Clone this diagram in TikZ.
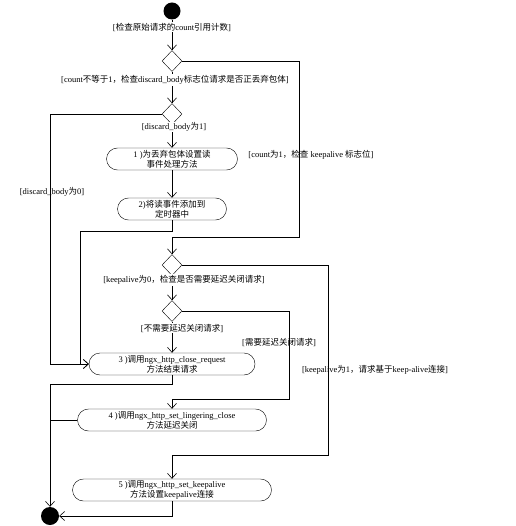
\documentclass[tikz,border=0pt]{standalone}
\usepackage{fontspec}
\setmainfont{Liberation Serif}
\newfontfamily\zhfont{Noto Sans CJK SC}
\newcommand{\zh}[1]{{\zhfont #1}}
\usetikzlibrary{arrows.meta,shapes.geometric}

\begin{document}
\begin{tikzpicture}[x=1pt, y=-1pt,
    every node/.style={font=\fontsize{8.5}{10}\selectfont},
    act/.style={draw, rounded corners=11pt, minimum height=22pt, inner sep=1pt, align=center},
    choice/.style={draw, diamond, minimum width=20pt, minimum height=21pt, inner sep=0pt},
    guard/.style={inner sep=1pt},
    flow/.style={-{Straight Barb[length=5pt,width=9pt]}, line width=0.6pt},
    wire/.style={line width=0.6pt}]
    \useasboundingbox (0,0) rectangle (515,526);

    % start and end
    \node[circle, fill=black, minimum size=17pt, inner sep=0pt] (start) at (172,11) {};
    \node[circle, fill=black, minimum size=18pt, inner sep=0pt] (finish) at (50,516) {};

    % decisions
    \node[choice] (d1) at (172,61) {};
    \node[choice] (d2) at (172,114) {};
    \node[choice] (d3) at (172,265) {};
    \node[choice] (d4) at (172,311) {};

    % actions
    \node[act, minimum width=131pt] (act1) at (172,159) {1 )\zh{为丢弃包体设置读}\\\zh{事件处理方法}};
    \node[act, minimum width=109pt] (act2) at (172,209) {2)\zh{将读事件添加到}\\\zh{定时器中}};
    \node[act, minimum width=166pt] (act3) at (172,364) {3 )\zh{调用}ngx\_http\_close\_request\\\zh{方法结束请求}};
    \node[act, minimum width=189pt] (act4) at (172,420) {4 )\zh{调用}ngx\_http\_set\_lingering\_close\\\zh{方法延迟关闭}};
    \node[act, minimum width=199pt] (act5) at (172,490) {5 )\zh{调用}ngx\_http\_set\_keepalive\\\zh{方法设置}keepalive\zh{连接}};

    % flows
    \draw[flow] (start) -- (d1.north);
    \draw[flow] (d1.south) -- (d2.north);
    \draw[flow] (d2.south) -- (act1.north);
    \draw[flow] (act1.south) -- (act2.north);
    \draw[flow] (act2.south) |- (80,231) |- (act3.west);
    \draw[flow] (d2.west) -- (50,114) |- (act3.west);
    \draw[flow] (d1.east) -| (299,237) -| (d3.north);
    \draw[flow] (d3.south) -- (d4.north);
    \draw[flow] (d4.south) -- (act3.north);
    \draw[flow] (d4.east) -| (289,399) -| (act4.north);
    \draw[flow] (d3.east) -| (328,455) -| (act5.north);
    \draw[flow] (act3.south) |- (50,384) -- (finish.north);
    \draw[wire] (act4.west) -- (50,420);
    \draw[flow] (act5.south) |- (finish.east);

    % guards
    \node[guard, fill=white] (g0) at (172,27) {[\zh{检查原始请求的}count\zh{引用计数}]};
    \node[guard, fill=white] (g1) at (175,80) {[count\zh{不等于}1\zh{，检查}discard\_body\zh{标志位请求是否正丢弃包体}]};
    \node[guard, fill=white] (g2) at (174,127) {[discard\_body\zh{为}1]};
    \node[guard] (g3) at (311,155) {[count\zh{为}1\zh{，检查} keepalive \zh{标志位}]};
    \node[guard] (g4) at (52,192) {[discard\_body\zh{为}0]};
    \node[guard, fill=white] (g5) at (184,280) {[keepalive\zh{为}0\zh{，检查是否需要延迟关闭请求}]};
    \node[guard, fill=white] (g6) at (182,328) {[\zh{不需要延迟关闭请求}]};
    \node[guard] (g7) at (279,342) {[\zh{需要延迟关闭请求}]};
    \node[guard] (g8) at (375,370) {[keepalive\zh{为}1\zh{，请求基于}keep-alive\zh{连接}]};
\end{tikzpicture}
\end{document}
